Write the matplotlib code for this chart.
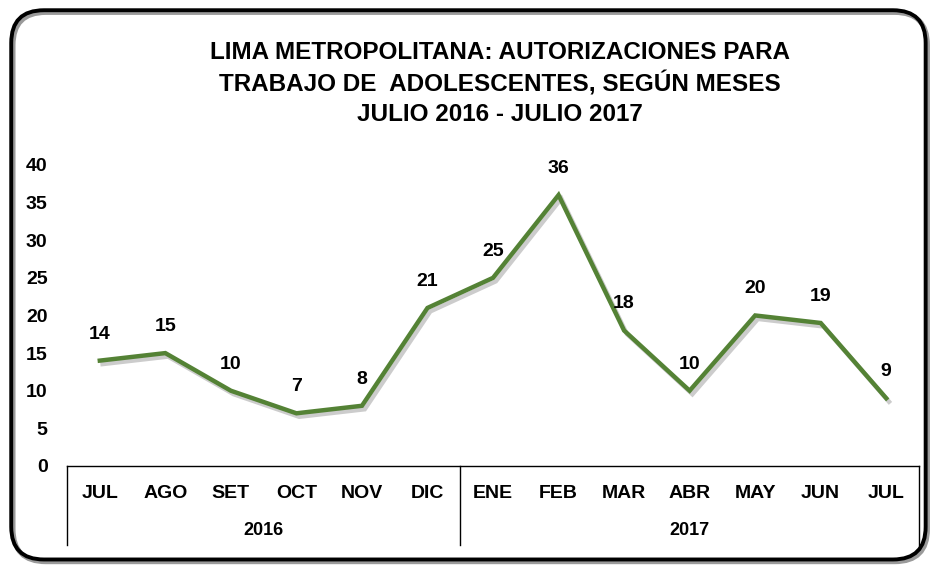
import numpy as np
import matplotlib.pyplot as plt
import matplotlib.patheffects as pe
from matplotlib.patches import FancyBboxPatch
from matplotlib.transforms import blended_transform_factory

plt.rcParams['font.family'] = ['Liberation Sans', 'DejaVu Sans']
plt.rcParams['font.weight'] = 'bold'

# datos
meses = ['JUL', 'AGO', 'SET', 'OCT', 'NOV', 'DIC', 'ENE', 'FEB', 'MAR', 'ABR', 'MAY', 'JUN', 'JUL']
anios = ['2016', '2017']
meses_por_anio = [6, 7]
autorizaciones = [14, 15, 10, 7, 8, 21, 25, 36, 18, 10, 20, 19, 9]
titulo = ('LIMA METROPOLITANA: AUTORIZACIONES PARA\n'
          'TRABAJO DE  ADOLESCENTES, SEGÚN MESES\n'
          'JULIO 2016 - JULIO 2017')

verde = '#548235'

fig = plt.figure(figsize=(9.35, 5.68), dpi=100)
ax = fig.add_axes([0.0717, 0.1796, 0.9112, 0.53])
ax.patch.set_alpha(0)

x = np.arange(len(meses))
ax.plot(x, autorizaciones, color=verde, lw=3.2, solid_joinstyle='miter',
        path_effects=[pe.SimpleLineShadow(offset=(2, -2.5), shadow_color='black', alpha=0.2),
                      pe.Normal()])

for xi, v in zip(x, autorizaciones):
    ax.annotate(str(v), (xi, v), xytext=(0, 13), textcoords='offset points',
                ha='center', va='bottom', fontsize=14, fontweight='bold')

ax.set_xlim(-0.5, len(meses) - 0.5)
ax.set_ylim(0, 40)
ax.set_yticks(np.arange(0, 41, 5))
ax.tick_params(axis='y', length=0, pad=14, labelsize=14)
ax.set_xticks(x)
ax.set_xticklabels(meses)
ax.tick_params(axis='x', length=0, pad=14, labelsize=14)
for lab in ax.get_xticklabels() + ax.get_yticklabels():
    lab.set_fontweight('bold')

for s in ['left', 'right', 'top']:
    ax.spines[s].set_visible(False)
ax.spines['bottom'].set_linewidth(1.0)

# tabla de categorias (anios)
tr = blended_transform_factory(ax.transData, ax.transAxes)
inicio = -0.5
bordes = [inicio]
for anio, n in zip(anios, meses_por_anio):
    ax.text(inicio + n / 2, -0.215, anio, transform=tr, ha='center', va='center',
            fontsize=13, fontweight='bold')
    inicio += n
    bordes.append(inicio)
for b in bordes:
    ax.plot([b, b], [0, -0.262], transform=tr, color='black', lw=1.0, clip_on=False)

fig.text(0.535, 0.853, titulo, ha='center', va='center', fontsize=17.5,
         fontweight='bold', linespacing=1.38)

# marco redondeado con sombra
sombra = FancyBboxPatch((0.014, 0.011), 0.978, 0.967, boxstyle='round,pad=0,rounding_size=0.035',
                        transform=fig.transFigure, facecolor='none', edgecolor='#9a9a9a', lw=3.5,
                        mutation_aspect=935 / 568, zorder=0)
marco = FancyBboxPatch((0.012, 0.015), 0.978, 0.967, boxstyle='round,pad=0,rounding_size=0.035',
                       transform=fig.transFigure, facecolor='none', edgecolor='black', lw=2.8,
                       mutation_aspect=935 / 568, zorder=1)
fig.patches.extend([sombra, marco])

fig.savefig('out.png', dpi=100)
